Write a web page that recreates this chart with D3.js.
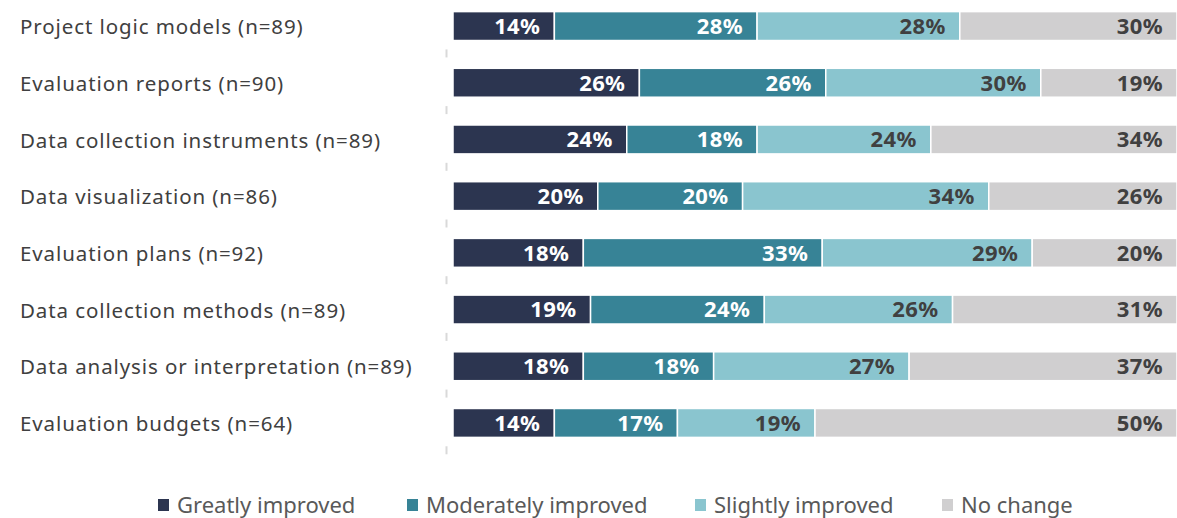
<!DOCTYPE html>
<html>
<head>
<meta charset="utf-8">
<script src="https://cdn.jsdelivr.net/npm/d3@7"></script>
<style>
  body { margin: 0; background: #fff; }
  text { font-family: "Noto Sans", "Open Sans", sans-serif; }
</style>
</head>
<body>
<svg id="chart" width="1177" height="518"></svg>
<script>
// categories, top to bottom
var categories = [
    "Project logic models (n=89)",
    "Evaluation reports (n=90)",
    "Data collection instruments (n=89)",
    "Data visualization (n=86)",
    "Evaluation plans (n=92)",
    "Data collection methods (n=89)",
    "Data analysis or interpretation (n=89)",
    "Evaluation budgets (n=64)"
];

var seriesNames = ["Greatly improved", "Moderately improved", "Slightly improved", "No change"];

// percent values per series, same order as categories
var greatly    = [14, 26, 24, 20, 18, 19, 18, 14];
var moderately = [28, 26, 18, 20, 33, 24, 18, 17];
var slightly   = [28, 30, 24, 34, 29, 26, 27, 19];
var noChange   = [30, 19, 34, 26, 20, 31, 37, 50];

var colors = ["#2c3550", "#378396", "#8ac5cf", "#d0cfd0"];
var labelColors = ["#ffffff", "#ffffff", "#404040", "#404040"];

var svg = d3.select("#chart");

var plotLeft = 453, plotRight = 1177, plotTop = -2, plotBottom = 451;

// table for d3.stack
var rows = categories.map(function (c, i) {
    return { cat: c, 0: greatly[i], 1: moderately[i], 2: slightly[i], 3: noChange[i] };
});

var stack = d3.stack()
    .keys([0, 1, 2, 3])
    .offset(d3.stackOffsetExpand);   // rows that round to 101% still fill the width
var layers = stack(rows);

var x = d3.scaleLinear().domain([0, 1]).range([plotLeft, plotRight]);
var y = d3.scaleBand().domain(categories).range([plotTop, plotBottom]).paddingInner(0.49).paddingOuter(0.24);

// little tick marks between rows, like the faint axis in the original
var step = y.step();
svg.append("g").selectAll("line")
    .data(categories)
    .enter().append("line")
    .attr("x1", 446.5).attr("x2", 446.5)
    .attr("y1", function (d) { return y(d) + y.bandwidth() + (step - y.bandwidth()) / 2 - 5; })
    .attr("y2", function (d) { return y(d) + y.bandwidth() + (step - y.bandwidth()) / 2 + 3; })
    .attr("stroke", "#d9d9d9")
    .attr("stroke-width", 2);

var layerG = svg.append("g").selectAll("g")
    .data(layers)
    .enter().append("g");

layerG.selectAll("rect")
    .data(function (d) { return d.map(function (v) { return { v: v, key: d.key }; }); })
    .enter().append("rect")
    .attr("x", function (d) { return x(d.v[0]); })
    .attr("y", function (d) { return y(d.v.data.cat); })
    .attr("width", function (d) { return x(d.v[1]) - x(d.v[0]); })
    .attr("height", y.bandwidth())
    .attr("fill", function (d) { return colors[d.key]; })
    .attr("stroke", "#fff")
    .attr("stroke-width", 1.5);

layerG.selectAll("text")
    .data(function (d) { return d.map(function (v) { return { v: v, key: d.key }; }); })
    .enter().append("text")
    .attr("x", function (d) { return x(d.v[1]) - 14; })
    .attr("y", function (d) { return y(d.v.data.cat) + y.bandwidth() / 2; })
    .attr("dy", "0.36em")
    .attr("text-anchor", "end")
    .attr("font-size", 22)
    .attr("font-weight", "bold")
    .attr("letter-spacing", 0.4)
    .attr("fill", function (d) { return labelColors[d.key]; })
    .text(function (d) { return d.v.data[d.key] + "%"; });

// category labels
svg.append("g").selectAll("text")
    .data(categories)
    .enter().append("text")
    .attr("x", 20)
    .attr("y", function (d) { return y(d) + y.bandwidth() / 2; })
    .attr("dy", "0.4em")
    .attr("font-size", 20.5)
    .attr("letter-spacing", 0.9)
    .attr("fill", "#404040")
    .text(function (d) { return d; });

// legend
var legendX = [158, 407, 695, 942];
var legend = svg.append("g").selectAll("g")
    .data(seriesNames)
    .enter().append("g")
    .attr("transform", function (d, i) { return "translate(" + legendX[i] + ",505)"; });

legend.append("rect")
    .attr("x", 0).attr("y", -6)
    .attr("width", 11).attr("height", 12)
    .attr("fill", function (d, i) { return colors[i]; });

legend.append("text")
    .attr("x", 19)
    .attr("dy", "0.36em")
    .attr("font-size", 22)
    .attr("fill", "#595959")
    .text(function (d) { return d; });
</script>
</body>
</html>
